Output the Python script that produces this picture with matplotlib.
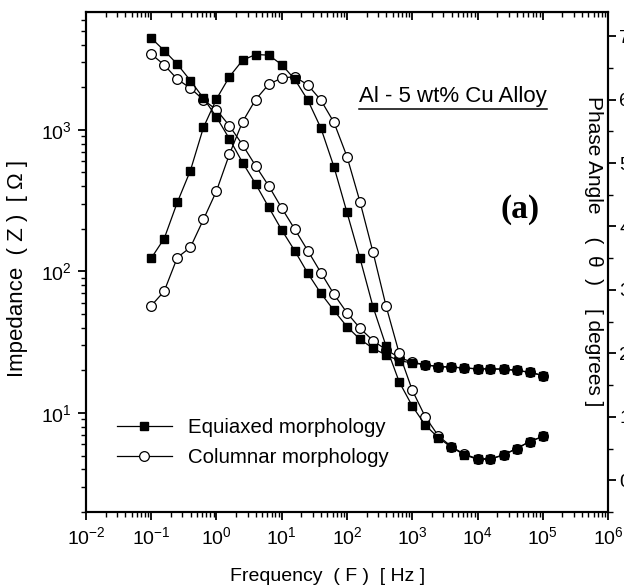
import matplotlib
matplotlib.use("Agg")
import matplotlib.pyplot as plt
from matplotlib.ticker import LogLocator, MultipleLocator, NullFormatter

plt.rcParams["font.family"] = ["Liberation Sans", "DejaVu Sans"]
plt.rcParams["mathtext.default"] = "regular"

# ---- data ----
freq = [0.1, 0.158, 0.251, 0.398, 0.631, 1.0, 1.58, 2.51, 3.98, 6.31,
        10, 15.8, 25.1, 39.8, 63.1, 100, 158, 251, 398, 631,
        1000, 1580, 2510, 3980, 6310, 1e4, 1.58e4, 2.51e4, 3.98e4, 6.31e4, 1e5]

z_equiaxed = [4450, 3630, 2910, 2230, 1675, 1230, 863, 587, 415, 284,
              196, 140, 97, 70, 53, 40.7, 33.2, 28.6, 25.7, 23.4,
              22.6, 21.9, 21.3, 21.1, 20.8, 20.5, 20.5, 20.4, 20.0, 19.4, 18.4]
z_columnar = [3430, 2875, 2280, 1970, 1630, 1385, 1067, 783, 557, 402,
              280, 199, 140, 98, 69, 51, 39.7, 32.4, 28.0, 24.6,
              22.9, 21.9, 21.3, 21.1, 20.8, 20.5, 20.5, 20.4, 20.0, 19.4, 18.4]

ph_equiaxed = [35.0, 38.1, 43.8, 48.8, 55.6, 60.1, 63.6, 66.2, 67.1, 67.0,
               65.5, 63.2, 59.9, 55.5, 49.4, 42.2, 35.0, 27.3, 21.1, 15.5,
               11.7, 8.7, 6.7, 5.2, 4.0, 3.3, 3.3, 4.0, 5.0, 6.1, 6.9]
ph_columnar = [27.5, 29.8, 35.1, 36.7, 41.1, 45.6, 51.4, 56.5, 60.0, 62.4,
               63.4, 63.6, 62.3, 59.9, 56.4, 51.0, 43.9, 35.9, 27.4, 20.0,
               14.2, 10.0, 7.0, 5.3, 4.1, 3.4, 3.4, 4.0, 5.0, 6.1, 6.9]

labels = ["Equiaxed morphology", "Columnar morphology"]

fig = plt.figure(figsize=(6.24, 5.88), dpi=100)
ax = fig.add_axes([0.1378, 0.1293, 0.8366, 0.8503])
ax2 = ax.twinx()

sq = dict(color="black", lw=0.9, marker="s", ms=6.3, mfc="black", mec="black")
ci = dict(color="black", lw=0.9, marker="o", ms=7, mfc="white", mec="black", mew=0.9)

ax.plot(freq, z_columnar, zorder=2, **ci)
ax.plot(freq, z_equiaxed, zorder=3, **sq)
ax2.plot(freq, ph_columnar, zorder=2, **ci)
ax2.plot(freq, ph_equiaxed, zorder=3, **sq)

ax.set_xscale("log")
ax.set_yscale("log")
ax.set_xlim(1e-2, 1e6)
ax.set_ylim(2.0, 6800)
ax2.set_ylim(-5, 73.8)

ax.xaxis.set_major_locator(LogLocator(base=10, numticks=20))
ax.xaxis.set_minor_locator(LogLocator(base=10, subs=range(2, 10), numticks=100))
ax.xaxis.set_minor_formatter(NullFormatter())
ax.yaxis.set_minor_locator(LogLocator(base=10, subs=range(2, 10), numticks=100))
ax.yaxis.set_minor_formatter(NullFormatter())

ax2.yaxis.set_major_locator(MultipleLocator(10))
ax2.yaxis.set_minor_locator(MultipleLocator(5))

for a in (ax, ax2):
    for s in a.spines.values():
        s.set_linewidth(1.5)

ax.tick_params(which="major", direction="out", length=6, width=1.3, labelsize=14, pad=4,
               right=False, top=False)
ax.tick_params(which="minor", direction="out", length=3.5, width=1.0, right=False, top=False)
ax2.tick_params(which="major", direction="out", length=6, width=1.3, labelsize=14, pad=2)
ax2.tick_params(which="minor", direction="out", length=3.5, width=1.0)

top = ax.secondary_xaxis("top")
top.xaxis.set_major_locator(LogLocator(base=10, numticks=20))
top.xaxis.set_minor_locator(LogLocator(base=10, subs=range(2, 10), numticks=100))
top.xaxis.set_major_formatter(NullFormatter())
top.xaxis.set_minor_formatter(NullFormatter())
top.tick_params(which="major", direction="in", length=6, width=1.3)
top.tick_params(which="minor", direction="in", length=3.5, width=1.0)

ax.set_xlabel("Frequency  ( F )  [ Hz ]", fontsize=14)
ax.xaxis.set_label_coords(0.462, -0.112)
ax.set_ylabel("Impedance  ( Z )  [ Ω ]", fontsize=16)
ax.yaxis.set_label_coords(-0.112, 0.488)

ax2.text(0.972, 0.521, "Phase Angle    (  θ  )    [ degrees ]", transform=ax2.transAxes,
         rotation=-90, ha="center", va="center", fontsize=15)

ttl = ax2.text(0.523, 0.8306, "Al - 5 wt% Cu Alloy", transform=ax2.transAxes,
               ha="left", va="center", fontsize=16)
ax2.text(0.831, 0.604, "(a)", transform=ax2.transAxes, ha="center", va="center",
         fontsize=24, fontweight="bold", family="Liberation Serif")

leg = ax2.legend(ax.get_lines()[::-1], labels, loc="upper left",
                 bbox_to_anchor=(0.059, 0.188), frameon=False, fontsize=14.7,
                 handlelength=2.7, handletextpad=0.8, labelspacing=0.55,
                 borderpad=0, borderaxespad=0, numpoints=1)

# underline for the alloy label
fig.canvas.draw()
bb = ttl.get_window_extent().transformed(ax2.transAxes.inverted())
ax2.plot([bb.x0, bb.x1], [0.806, 0.806], transform=ax2.transAxes, color="black",
         lw=1.1, clip_on=False)

fig.savefig("out.png", dpi=100)
